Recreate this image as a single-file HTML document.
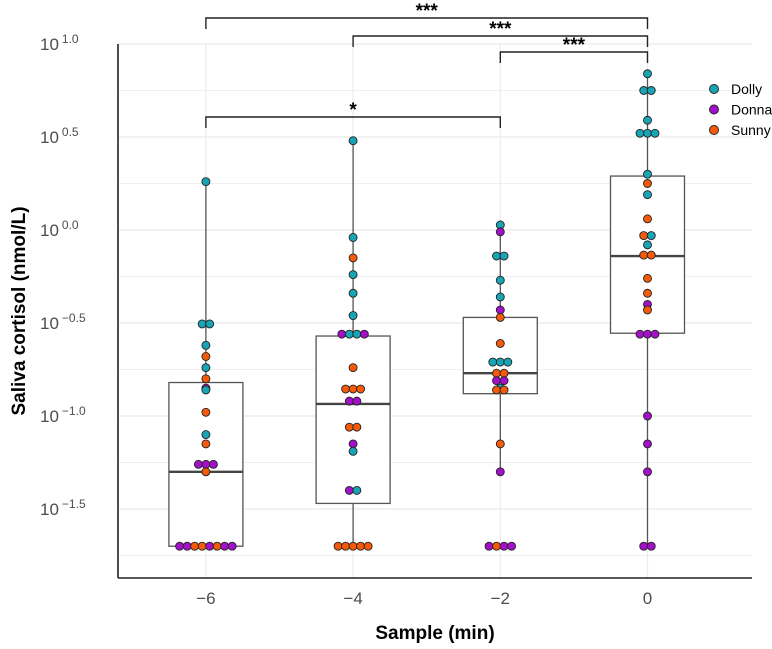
<!DOCTYPE html>
<html><head><meta charset="utf-8">
<style>
html,body{margin:0;padding:0;background:#fff;}
svg{display:block;font-family:"Liberation Sans",sans-serif;}
</style></head>
<body>
<svg id="chart" width="772" height="649" viewBox="0 0 772 649"></svg>
<script>
// ---- data ----
const categories = [-6, -4, -2, 0];
const yTicks = [1.0, 0.5, 0.0, -0.5, -1.0, -1.5];
const yTickLabels = ["1.0", "0.5", "0.0", "\u22120.5", "\u22121.0", "\u22121.5"];
const xTickLabels = ["\u22126", "\u22124", "\u22122", "0"];
const subjects = ["Dolly", "Donna", "Sunny"];
const subjectColors = ["#17a5b5", "#a40fca", "#f45a0a"];

// log10 values and subject index (0 Dolly,1 Donna,2 Sunny)
const valsM6 = [0.26,-0.505,-0.505,-0.62,-0.68,-0.74,-0.80,-0.85,-0.86,-0.98,-1.10,-1.15,-1.26,-1.26,-1.26,-1.30,-1.70,-1.70,-1.70,-1.70,-1.70,-1.70,-1.70,-1.70];
const subjM6 = [0,0,0,0,2,0,2,1,0,2,0,2,1,1,1,2,1,1,2,2,1,2,1,1];
const valsM4 = [0.48,-0.04,-0.15,-0.24,-0.34,-0.46,-0.56,-0.56,-0.56,-0.56,-0.74,-0.855,-0.855,-0.855,-0.92,-0.92,-1.06,-1.06,-1.15,-1.19,-1.40,-1.40,-1.70,-1.70,-1.70,-1.70,-1.70];
const subjM4 = [0,0,2,0,0,0,1,0,0,1,2,2,2,2,1,1,2,2,1,0,1,0,2,2,2,2,2];
const valsM2 = [0.027,-0.01,-0.14,-0.14,-0.27,-0.36,-0.43,-0.47,-0.61,-0.71,-0.71,-0.71,-0.77,-0.77,-0.81,-0.81,-0.85,-0.86,-0.86,-1.15,-1.30,-1.70,-1.70,-1.70,-1.70];
const subjM2 = [0,1,0,0,0,0,1,2,2,0,0,0,2,2,1,1,0,2,2,2,1,1,2,1,1];
const vals0 = [0.84,0.75,0.75,0.59,0.52,0.52,0.52,0.30,0.25,0.19,0.06,-0.03,-0.03,-0.08,-0.135,-0.135,-0.26,-0.34,-0.40,-0.43,-0.56,-0.56,-0.56,-1.00,-1.15,-1.30,-1.70,-1.70];
const subj0 = [0,0,0,0,0,0,0,0,2,0,2,2,0,0,2,2,2,2,1,2,1,1,1,1,1,1,1,1];
const groupVals = [valsM6, valsM4, valsM2, vals0];
const groupSubj = [subjM6, subjM4, subjM2, subj0];

const boxQ1 = [-1.70, -1.47, -0.88, -0.555];
const boxMedian = [-1.30, -0.935, -0.77, -0.14];
const boxQ3 = [-0.82, -0.57, -0.47, 0.29];
const whiskerLow = [-1.70, -1.70, -1.30, -1.70];
const whiskerHigh = [0.26, 0.48, 0.027, 0.84];

const sigPairs = [[-6,0],[-4,0],[-2,0],[-6,-2]];
const sigLabels = ["***","***","***","*"];

// ---- scales ----
const xScale = v => 647.5 + v * 73.6;
const yScale = v => 230 - v * 186;
const NS = "http://www.w3.org/2000/svg";
const svg = document.getElementById("chart");
function mk(tag, attrs, parent) {
  const e = document.createElementNS(NS, tag);
  for (const k in attrs) e.setAttribute(k, attrs[k]);
  (parent || svg).appendChild(e);
  return e;
}
const plotL = 118, plotR = 752, plotT = 44, plotB = 578;

// grid
const grid = mk("g", {});


for (let v = 1.0; v >= -1.75; v -= 0.25) {
  const y = yScale(v);
  if (y < plotT - 1 || y > plotB) continue;
  const major = Math.abs(v * 2 - Math.round(v * 2)) < 1e-6;
  mk("line", {x1: plotL, x2: plotR, y1: y, y2: y, stroke: "#ebebeb", "stroke-width": major ? 1.2 : 0.8}, grid);
}
categories.forEach(c => {
  mk("line", {x1: xScale(c), x2: xScale(c), y1: plotT, y2: plotB, stroke: "#ebebeb", "stroke-width": 1.2}, grid);
});

// axes
const axes = mk("g", {});


mk("line", {x1: plotL, x2: plotL, y1: plotT, y2: plotB, stroke: "#222", "stroke-width": 1.6}, axes);
mk("line", {x1: plotL, x2: plotR, y1: plotB, y2: plotB, stroke: "#222", "stroke-width": 1.6}, axes);

// y ticks
yTicks.forEach((v, i) => {
  const y = yScale(v);
  const t = mk("text", {x: 40, y: y + 6, "font-size": 17, fill: "#4d4d4d"});
  
  
  t.appendChild(document.createTextNode("10"));
  const s = document.createElementNS(NS, "tspan");
  s.setAttribute("dy", -7);
  s.setAttribute("font-size", 12);
  s.setAttribute("dx", 3);
  s.textContent = yTickLabels[i];
  t.appendChild(s);
});
// x ticks
categories.forEach((c, i) => {
  const t = mk("text", {x: xScale(c), y: 604, "font-size": 17, fill: "#4d4d4d", "text-anchor": "middle"});
  
  
  t.textContent = xTickLabels[i];
});
const xt = mk("text", {x: 435, y: 639, "font-size": 19, "font-weight": "bold", fill: "#000", "text-anchor": "middle"});


xt.textContent = "Sample (min)";
const yt = mk("text", {x: 0, y: 0, "font-size": 19, "font-weight": "bold", fill: "#000", "text-anchor": "middle", transform: "translate(25,311) rotate(-90)"});


yt.textContent = "Saliva cortisol (nmol/L)";

// boxes
categories.forEach((c, i) => {
  const g = mk("g", {});
  
  
  const x = xScale(c), hw = 37;
  mk("line", {x1: x, x2: x, y1: yScale(whiskerHigh[i]), y2: yScale(boxQ3[i]), stroke: "#555", "stroke-width": 1.3}, g);
  mk("line", {x1: x, x2: x, y1: yScale(boxQ1[i]), y2: yScale(whiskerLow[i]), stroke: "#555", "stroke-width": 1.3}, g);
  mk("rect", {x: x - hw, y: yScale(boxQ3[i]), width: hw * 2, height: yScale(boxQ1[i]) - yScale(boxQ3[i]), fill: "#fff", stroke: "#555", "stroke-width": 1.3}, g);
  mk("line", {x1: x - hw, x2: x + hw, y1: yScale(boxMedian[i]), y2: yScale(boxMedian[i]), stroke: "#444", "stroke-width": 2.4}, g);
});

// points (same values spread horizontally)
categories.forEach((c, gi) => {
  const vals = groupVals[gi], subj = groupSubj[gi];
  const counts = {}, idx = {};
  vals.forEach(v => counts[v] = (counts[v] || 0) + 1);
  vals.forEach((v, j) => {
    idx[v] = (idx[v] || 0);
    const n = counts[v], k = idx[v]++;
    const off = (k - (n - 1) / 2) * 7.5;
    const p = mk("circle", {cx: xScale(c) + off, cy: yScale(v), r: 4, fill: subjectColors[subj[j]], stroke: "#222", "stroke-width": 0.9});
    
    
  });
});

// significance brackets
const bracketY = [18, 36, 52, 117];
sigPairs.forEach((pr, i) => {
  const g = mk("g", {});
  
  
  const x1 = xScale(pr[0]), x2 = xScale(pr[1]), y = bracketY[i];
  mk("path", {d: `M${x1},${y + 11} V${y} H${x2} V${y + 11}`, fill: "none", stroke: "#222", "stroke-width": 1.4}, g);
  const t = mk("text", {x: (x1 + x2) / 2, y: y - 1, "font-size": 19, "font-weight": "bold", "text-anchor": "middle"}, g);
  t.textContent = sigLabels[i];
});

// legend
const leg = mk("g", {});


subjects.forEach((s, i) => {
  const y = 89 + i * 20.5;
  const e = mk("g", {}, leg);
  
  
  mk("circle", {cx: 714, cy: y, r: 4.5, fill: subjectColors[i], stroke: "#222", "stroke-width": 0.9}, e);
  const t = mk("text", {x: 731, y: y + 5, "font-size": 14, fill: "#000"}, e);
  t.textContent = s;
});
</script>
</body></html>
